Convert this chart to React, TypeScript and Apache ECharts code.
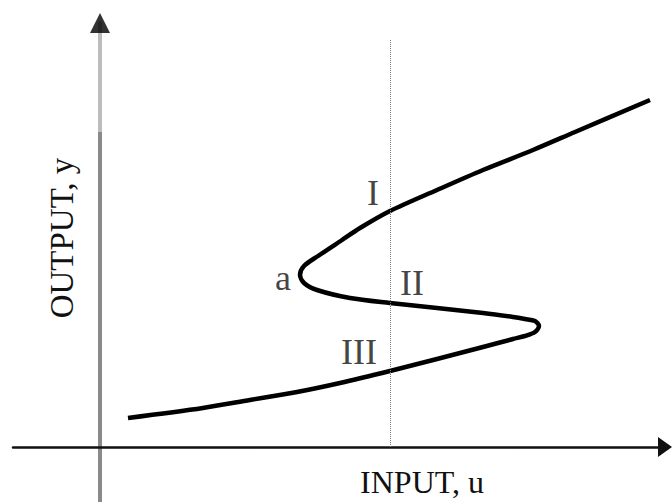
import React, { useEffect, useRef } from "react";
import * as echarts from "echarts";

// S-shaped input/output characteristic (arbitrary units)
const curveX = [
  0.28, 1.03, 1.5, 1.97, 2.4, 2.9, 3.37, 3.83, 4.13, 4.25, 4.35, 4.39,
  4.35, 4.25, 4.13, 3.83, 3.37, 2.9, 2.5, 2.17, 2.04, 2.0, 2.04, 2.18, 2.42, 2.6,
  2.9, 3.37, 3.83, 4.33, 4.75, 5.5,
];
const curveY = [
  0.29, 0.39, 0.47, 0.55, 0.64, 0.76, 0.88, 1.0, 1.08, 1.11, 1.15, 1.21,
  1.26, 1.28, 1.3, 1.34, 1.39, 1.44, 1.49, 1.57, 1.64, 1.72, 1.81, 1.91, 2.07, 2.19,
  2.36, 2.57, 2.77, 2.97, 3.15, 3.47,
];

// vertical reference line at a fixed input
const inputLevel = 2.9;
const inputLineTop = 4.07;

// branch labels
const labelNames = ["I", "II", "III", "a"];
const labelX = [2.73, 3.12, 2.59, 1.83];
const labelY = [2.54, 1.64, 0.95, 1.69];

// axis extents
const xMin = -0.87;
const xMax = 5.65;
const yMin = -0.55;
const yMax = 4.24;

const axisTitles = ["INPUT, u", "OUTPUT, y"];

const FONT = '"Liberation Serif", "Times New Roman", serif';

export default function App() {
  const ref = useRef<HTMLDivElement>(null);

  useEffect(() => {
    if (!ref.current) return;
    const chart = echarts.init(ref.current, null, { renderer: "svg" });

    const curveData = curveX.map((x, i) => [x, curveY[i]]);
    const labelData = labelNames.map((n, i) => ({ name: n, value: [labelX[i], labelY[i]] }));

    chart.setOption({
      animation: false,
      backgroundColor: "#ffffff",
      grid: { left: 13, right: 7, top: 23, bottom: 0, outerBoundsMode: "none", containLabel: false },
      xAxis: {
        type: "value",
        min: xMin,
        max: xMax,
        axisLine: {
          show: true,
          onZero: true,
          symbol: ["none", "triangle"],
          symbolSize: [20, 14],
          lineStyle: { color: "#111111", width: 2.5 },
        },
        axisTick: { show: false },
        axisLabel: { show: false },
        splitLine: { show: false },
      },
      yAxis: {
        type: "value",
        min: yMin,
        max: yMax,
        axisLine: {
          show: true,
          onZero: true,
          lineStyle: {
            width: 4,
            color: new echarts.graphic.LinearGradient(
              0, 23, 0, 502,
              [
                { offset: 0, color: "#bdbdbd" },
                { offset: 0.227, color: "#bdbdbd" },
                { offset: 0.228, color: "#8a8a8a" },
                { offset: 1, color: "#8a8a8a" },
              ],
              true
            ),
          },
        },
        axisTick: { show: false },
        axisLabel: { show: false },
        splitLine: { show: false },
      },
      graphic: [
        {
          type: "text",
          x: 422,
          y: 482,
          style: {
            text: axisTitles[0],
            fontSize: 32,
            fontFamily: FONT,
            fill: "#111111",
            align: "center",
            verticalAlign: "middle",
          },
        },
        {
          type: "text",
          x: 62,
          y: 238,
          rotation: Math.PI / 2,
          style: {
            text: axisTitles[1],
            fontSize: 33,
            fontFamily: FONT,
            fill: "#111111",
            align: "center",
            verticalAlign: "middle",
          },
        },
      ],
      series: [
        {
          type: "line",
          name: "curve",
          data: curveData,
          smooth: 0.3,
          showSymbol: false,
          symbol: "none",
          lineStyle: { color: "#000000", width: 4.5, cap: "butt", join: "round" },
          z: 3,
          markLine: {
            silent: true,
            symbol: ["none", "none"],
            label: { show: false },
            lineStyle: { type: "dotted", color: "#7a7a7a", width: 1 },
            data: [
              [
                { coord: [inputLevel, inputLineTop] },
                { coord: [inputLevel, 0] },
              ],
            ],
          },
        },
        {
          type: "scatter",
          name: "labels",
          data: labelData,
          symbolSize: 0,
          clip: false,
          label: {
            show: true,
            position: "inside",
            formatter: (p: any) => p.name,
            fontFamily: FONT,
            fontSize: 36,
            color: "#111111",
          },
          z: 4,
        },
        {
          type: "scatter",
          name: "yArrow",
          data: [[0, yMax]],
          symbol: "triangle",
          symbolSize: [20, 20],
          clip: false,
          itemStyle: { color: "#000000" },
          z: 5,
          silent: true,
        },
      ],
    });

    return () => chart.dispose();
  }, []);

  return (
    <div
      ref={ref}
      style={{ position: "fixed", left: 0, top: 0, width: 672, height: 502, background: "#fff" }}
    />
  );
}
